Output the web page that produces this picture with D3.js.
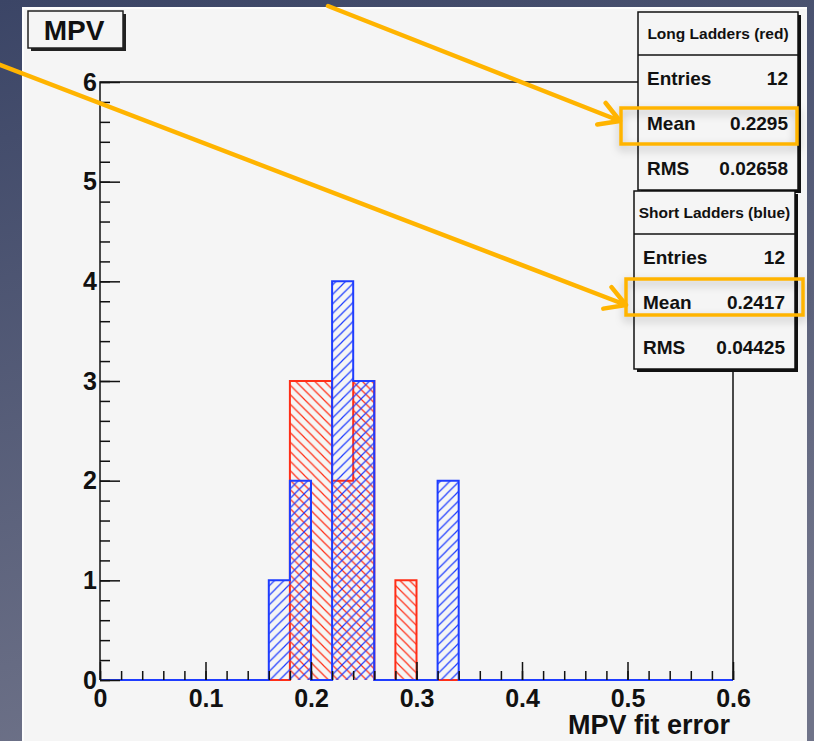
<!DOCTYPE html>
<html>
<head>
<meta charset="utf-8">
<script src="https://cdn.jsdelivr.net/npm/d3@7"></script>
<style>
  html, body { margin: 0; padding: 0; background: #3d4768; }
  svg { display: block; }
  text { font-family: "Liberation Sans", Arial, Helvetica, sans-serif; font-weight: bold; fill: #111; }
</style>
</head>
<body>
<script>
// histogram contents (bin low edge, entries)
const binWidth = 0.02;
const redBinStart = [0.18, 0.20, 0.22, 0.24, 0.28];
const redCounts = [3, 3, 2, 3, 1];
const blueBinStart = [0.16, 0.18, 0.22, 0.24, 0.32];
const blueCounts = [1, 2, 4, 3, 2];

const xTicks = [0, 0.1, 0.2, 0.3, 0.4, 0.5, 0.6];
const yTicks = [0, 1, 2, 3, 4, 5, 6];

const statTitles = ["Long Ladders (red)", "Short Ladders (blue)"];
const statLabels = ["Entries", "Mean", "RMS"];
const redStats = ["12", "0.2295", "0.02658"];
const blueStats = ["12", "0.2417", "0.04425"];

const W = 814, H = 741;
const red = "#ff2e17", blue = "#1e3cff", orange = "#ffb400";

const svg = d3.select("body").append("svg")
    .attr("width", W)
    .attr("height", H);

const defs = svg.append("defs");
const bg = defs.append("linearGradient")
    .attr("id", "bg")
    .attr("x1", 0).attr("y1", 0).attr("x2", 0.3).attr("y2", 1);
bg.append("stop").attr("offset", 0).attr("stop-color", "#3b4566");
bg.append("stop").attr("offset", 1).attr("stop-color", "#6f7389");

const hatch = (id, colour, d) => defs.append("pattern")
    .attr("id", id)
    .attr("patternUnits", "userSpaceOnUse")
    .attr("width", 9.5).attr("height", 9.5)
    .append("path")
    .attr("d", d)
    .attr("stroke", colour)
    .attr("stroke-width", 1.2)
    .attr("fill", "none");
hatch("hatch_red", red, "M0,0 L9.5,9.5 M-2,7.5 L2,11.5 M7.5,-2 L11.5,2");
hatch("hatch_blue", blue, "M0,9.5 L9.5,0 M-2,2 L2,-2 M7.5,11.5 L11.5,7.5");

defs.append("filter")
    .attr("id", "soft")
    .attr("x", -0.2).attr("y", -0.5).attr("width", 1.4).attr("height", 2.2)
    .append("feDropShadow")
    .attr("dx", 0).attr("dy", 4)
    .attr("stdDeviation", 4)
    .attr("flood-color", "#000")
    .attr("flood-opacity", 0.25);

// backdrop and canvas
svg.append("rect").attr("width", W).attr("height", H).attr("fill", "url(#bg)");
svg.append("rect")
    .attr("x", 22).attr("y", 7)
    .attr("width", 785).attr("height", H - 7)
    .attr("fill", "#f5f5f5");
svg.append("path")
    .attr("d", "M23,741 V8 H807")
    .attr("stroke", "#fff").attr("stroke-width", 1.5).attr("fill", "none");

const margin = { top: 82, right: 81, bottom: 61, left: 100 };
const x = d3.scaleLinear().domain([0, 0.6]).range([margin.left, W - margin.right]);
const y = d3.scaleLinear().domain([0, 6]).range([H - margin.bottom, margin.top]);

// full bin contents over the axis range
const nBins = Math.round(0.6 / binWidth);
const fill_bins = (starts, counts) => {
    const c = new Array(nBins).fill(0);
    starts.forEach((s, i) => { c[Math.round(s / binWidth)] = counts[i]; });
    return c;
};
const step_points = c => c.flatMap((n, i) => [[i * binWidth, n], [(i + 1) * binWidth, n]]);

const area = d3.area().x(d => x(d[0])).y0(y(0)).y1(d => y(d[1]));
const line = d3.line().x(d => x(d[0])).y(d => y(d[1]));

const hists = svg.append("g").attr("id", "hists");
[
    { c: fill_bins(redBinStart, redCounts), col: red, pat: "hatch_red" },
    { c: fill_bins(blueBinStart, blueCounts), col: blue, pat: "hatch_blue" }
].forEach(h => {
    const pts = step_points(h.c);
    hists.append("path")
        .attr("d", area(pts))
        .attr("fill", `url(#${h.pat})`);
    hists.append("path")
        .attr("d", line(pts))
        .attr("fill", "none")
        .attr("stroke", h.col)
        .attr("stroke-width", 2);
});

// axes
const style_axis = g => {
    g.select(".domain").remove();
    g.selectAll("line").attr("stroke", "#111").attr("stroke-width", 1.5);
    g.selectAll("text").style("font-size", "25px").style("font-weight", "bold").attr("fill", "#111");
};
svg.append("g")
    .attr("transform", `translate(0, ${y(0)})`)
    .call(d3.axisBottom(x).tickValues(x.ticks(30)).tickSize(-9).tickFormat(""))
    .call(style_axis);
svg.append("g")
    .attr("transform", `translate(0, ${y(0)})`)
    .call(d3.axisBottom(x).tickValues(xTicks).tickSize(-18).tickPadding(9).tickFormat(d => String(d)))
    .call(style_axis);
svg.append("g")
    .attr("transform", `translate(${x(0)}, 0)`)
    .call(d3.axisLeft(y).tickValues(y.ticks(30)).tickSize(-10).tickFormat(""))
    .call(style_axis);
svg.append("g")
    .attr("transform", `translate(${x(0)}, 0)`)
    .call(d3.axisLeft(y).tickValues(yTicks).tickSize(-20).tickPadding(3).tickFormat(d => String(d)))
    .call(style_axis);

// frame
svg.append("path")
    .attr("d", `M${x(0)},${y(0)} V${y(6)} H${x(0.6)} V${y(0)}`)
    .attr("fill", "none")
    .attr("stroke", "#111")
    .attr("stroke-width", 1.5);

svg.append("text")
    .attr("x", x(0.6) - 3)
    .attr("y", 734)
    .attr("text-anchor", "end")
    .style("font-size", "27px")
    .text("MPV fit error");

// title box
const titleBox = svg.append("g");
titleBox.append("rect").attr("x", 31).attr("y", 14).attr("width", 95).attr("height", 37).attr("fill", "#222");
titleBox.append("rect").attr("x", 28).attr("y", 11).attr("width", 95).attr("height", 37)
    .attr("fill", "#f5f5f5").attr("stroke", "#222").attr("stroke-width", 1.5);
titleBox.append("text")
    .attr("x", 74).attr("y", 40)
    .attr("text-anchor", "middle")
    .style("font-size", "28px")
    .text("MPV");

// stats boxes
const stat_box = (bx, by, bw, bh, head, title, values) => {
    const g = svg.append("g");
    g.append("rect").attr("x", bx + 3).attr("y", by + 3).attr("width", bw).attr("height", bh).attr("fill", "#111");
    g.append("rect").attr("x", bx).attr("y", by).attr("width", bw).attr("height", bh)
        .attr("fill", "#f5f5f5").attr("stroke", "#111").attr("stroke-width", 1.5);
    g.append("line").attr("x1", bx).attr("x2", bx + bw).attr("y1", by + head).attr("y2", by + head)
        .attr("stroke", "#111").attr("stroke-width", 1.5);
    g.append("text")
        .attr("x", bx + bw / 2).attr("y", by + head / 2 + 5.5)
        .attr("text-anchor", "middle")
        .style("font-size", "15.5px")
        .text(title);
    const rowH = (bh - head) / statLabels.length;
    statLabels.forEach((lab, i) => {
        const base = by + head + rowH * (i + 0.5) + 7;
        g.append("text").attr("x", bx + 9).attr("y", base).style("font-size", "19px").text(lab);
        g.append("text").attr("x", bx + bw - 10).attr("y", base).attr("text-anchor", "end")
            .style("font-size", "19px").text(values[i]);
    });
};
stat_box(638, 12, 160, 178, 43, statTitles[0], redStats);
stat_box(634, 191, 161, 178, 43, statTitles[1], blueStats);

// orange annotations
const note = svg.append("g").attr("id", "notes");
[[621, 108, 176, 36], [626, 279, 177, 36]].forEach(([bx, by, bw, bh]) =>
    note.append("rect")
        .attr("x", bx).attr("y", by).attr("width", bw).attr("height", bh)
        .attr("fill", "none")
        .attr("stroke", orange)
        .attr("stroke-width", 3.5)
        .attr("filter", "url(#soft)"));

[[328, 6, 620, 121], [-5, 63, 626, 305]].forEach(([x1, y1, x2, y2]) => {
    const a = Math.atan2(y1 - y2, x1 - x2);
    const len = 23, spread = Math.PI / 6;
    const arm = s => [x2 + len * Math.cos(a + s), y2 + len * Math.sin(a + s)];
    const [ax, ay] = arm(spread), [bx, by] = arm(-spread);
    note.append("path")
        .attr("d", `M${x1},${y1} L${x2},${y2} M${ax},${ay} L${x2},${y2} L${bx},${by}`)
        .attr("fill", "none")
        .attr("stroke", orange)
        .attr("stroke-width", 4.5)
        .attr("stroke-linecap", "round")
        .attr("stroke-linejoin", "round");
});
</script>
</body>
</html>
